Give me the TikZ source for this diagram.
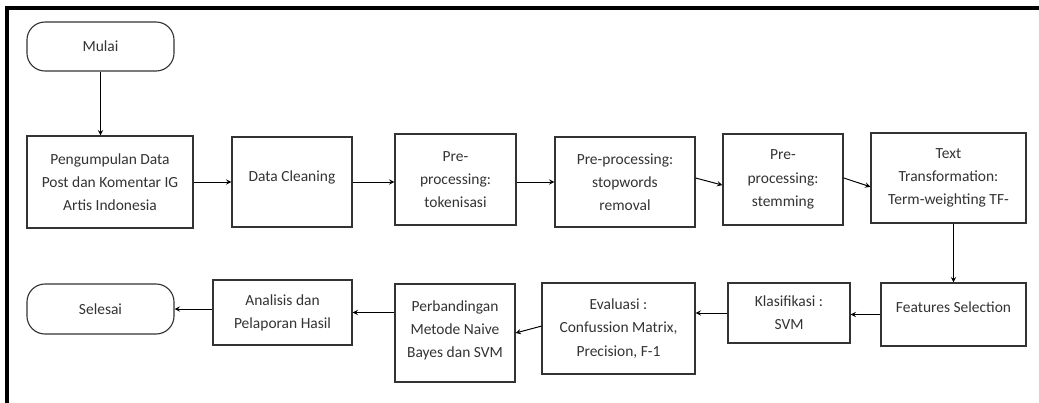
\documentclass[tikz,border=0pt]{standalone}
\usepackage{fontspec}
\setmainfont{Carlito}
\usepackage{tikz}
\usetikzlibrary{positioning}
\tikzset{proses/.style={rectangle, draw=black!80, line width=0.8pt, align=center, inner sep=2pt, text=black!80, font=\fontsize{11}{16.5}\selectfont},
  terminal/.style={proses, rounded corners=0.45cm}}

\begin{document}
\begin{tikzpicture}[->, >=stealth, x=0.025cm, y=-0.025cm, line width=0.7pt]
\useasboundingbox (0,0) rectangle (1039,402);
\draw[-, line width=2.2pt] (7,403) -- (7,8) -- (1040,8);
\node[terminal, minimum width=3.675cm, minimum height=1.225cm] (T0) at (100.5,46.5) {Mulai};
\node[proses, minimum width=4.15cm, minimum height=2.3cm] (P1) at (110,182) {Pengumpulan Data\\Post dan Komentar IG\\Artis Indonesia};
\node[proses, minimum width=3cm, minimum height=2.25cm, text depth=0.3cm] (P2) at (292,182) {Data Cleaning};
\node[proses, minimum width=3.025cm, minimum height=2.275cm] (P3) at (455.5,179.5) {Pre-\\processing:\\tokenisasi};
\node[proses, minimum width=3.5cm, minimum height=2.25cm] (P4) at (625,182) {Pre-processing:\\stopwords\\removal};
\node[proses, minimum width=3cm, minimum height=2.275cm] (P5) at (783,179.5) {Pre-\\processing:\\stemming};
\node[proses, minimum width=3.875cm, minimum height=2.25cm] (P6) at (948.5,178) {Text\\Transformation:\\Term-weighting TF-};
\node[proses, minimum width=3.625cm, minimum height=1.575cm, text depth=0.35cm] (P7) at (953.5,314.5) {Features Selection};
\node[proses, minimum width=3.05cm, minimum height=1.5cm] (P8) at (789,313) {Klasifikasi :\\SVM};
\node[proses, minimum width=3.825cm, minimum height=2.275cm] (P9) at (618.5,328.5) {Evaluasi :\\Confussion Matrix,\\Precision, F-1};
\node[proses, minimum width=3cm, minimum height=2.45cm, text depth=0.2cm] (P10) at (455,333) {Perbandingan\\Metode Naive\\Bayes dan SVM};
\node[proses, minimum width=3.475cm, minimum height=1.625cm] (P11) at (282.5,312.5) {Analisis dan\\Pelaporan Hasil};
\node[terminal, minimum width=3.675cm, minimum height=1.25cm] (T1) at (100.5,309) {Selesai};
\draw (T0.south) -- (T0.south |- P1.north);
\draw (P1.east) -- (P2.west);
\draw (P2.east) -- (P2.east -| P3.west);
\draw (P4.west -| P3.east) -- (P4.west);
\draw ([yshift=0.1cm]P4.east) -- ([yshift=-0.14cm]P5.west);
\draw ([yshift=0.04cm]P5.east) -- ([yshift=-0.22cm]P6.west);
\draw (P7.north |- P6.south) -- (P7.north);
\draw (P7.west) -- (P7.west -| P8.east);
\draw (P8.west) -- (P8.west -| P9.east);
\draw ([yshift=0.06cm]P9.west) -- (P10.east);
\draw (P11.east -| P10.west) -- (P11.east);
\draw (T1.east -| P11.west) -- (T1.east);
\end{tikzpicture}
\end{document}
